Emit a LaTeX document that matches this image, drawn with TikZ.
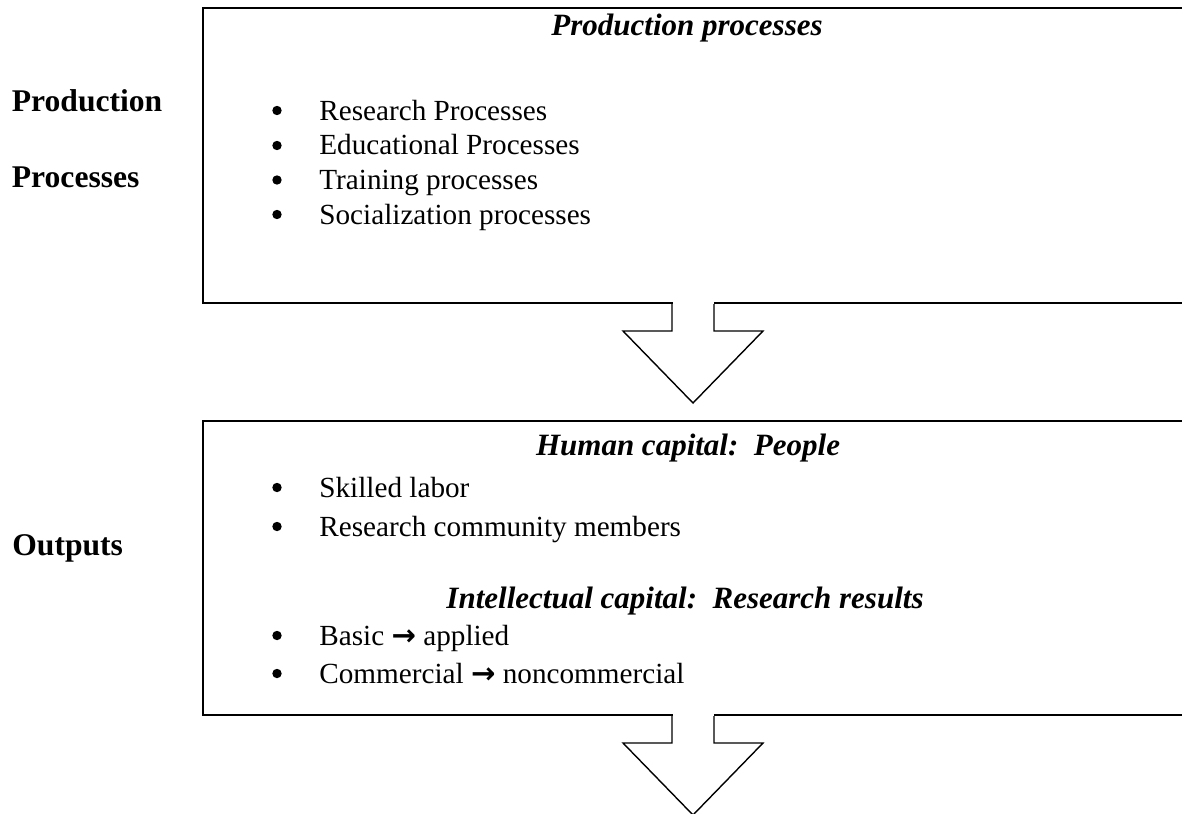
\documentclass[tikz,border=0pt]{standalone}
\usepackage{fontspec}
\setmainfont{Liberation Serif}
\newfontfamily\arrowfont{DejaVu Sans}
\usetikzlibrary{calc}
\tikzset{
	panel/.style={rectangle, draw=black, line width=1pt, inner sep=0pt},
	sidelabel/.style={anchor=base west, inner sep=0pt, font=\fontsize{15.8}{19}\selectfont\bfseries},
	heading/.style={anchor=base, inner sep=0pt, font=\fontsize{15.5}{19}\selectfont\bfseries\itshape},
	bulletitem/.style={anchor=base west, inner sep=0pt, font=\fontsize{14.6}{17}\selectfont},
	% hollow block arrow hanging under a box
	flowarrow/.style={draw=black, line width=0.7pt, fill=white, line join=miter},
	downarrow/.style={insert path={++(-21,0) -- ++(0,27) -- ++(-49,0) -- ++(70,72) -- ++(70,-72) -- ++(-49,0) -- ++(0,-27)}},
}
\newcommand{\rarr}{{\arrowfont\bfseries →}}

\begin{document}
\begin{tikzpicture}[x=0.5pt, y=-0.5pt]
	\useasboundingbox (0,0) rectangle (1182,813);
	% boxes
	\node[panel, minimum width=498.5pt, minimum height=147.5pt] (prodbox) at (701.5,155.5) {};
	\node[panel, minimum width=498.75pt, minimum height=147pt] (outbox) at (701.25,568) {};
	% left column
	\node[sidelabel] (prodlabel) at (11.5,112) {Production};
	\node[sidelabel] (proclabel) at (11.5,187) {Processes};
	\node[sidelabel] (outlabel) at (12,555) {Outputs};
	% production box
	\node[heading] (prodhead) at (687,36) {Production processes};
	\node[bulletitem] (research) at (319,120) {Research Processes};
	\node[bulletitem] (education) at (319,155) {Educational Processes};
	\node[bulletitem] (training) at (319,189.5) {Training processes};
	\node[bulletitem] (social) at (319,224) {Socialization processes};
	% outputs box
	\node[heading] (humanhead) at (688,455) {Human capital:\ \ People};
	\node[bulletitem] (skilled) at (319,497) {Skilled labor};
	\node[bulletitem] (community) at (319,536) {Research community members};
	\node[heading] (intelhead) at (685,608) {Intellectual capital:\ \ Research results};
	\node[bulletitem] (basic) at (319,645) {Basic \rarr{} applied};
	\node[bulletitem] (commercial) at (319,683) {Commercial \rarr{} noncommercial};
	% bullets
	\foreach \n in {research, education, training, social, skilled, community, basic, commercial}
		\fill ($(\n.base west)+(-42,-9.5)$) circle (4.7);
	% arrows
	\coordinate (gap1) at ($(prodbox.south west)+(491,0)$);
	\coordinate (gap2) at ($(outbox.south west)+(491.5,0)$);
	\foreach \g in {gap1, gap2} {
		\fill[white] ($(\g)+(-20.5,-2)$) rectangle ($(\g)+(20.5,2)$);
		\draw[flowarrow] (\g) [downarrow];
	}
\end{tikzpicture}
\end{document}
